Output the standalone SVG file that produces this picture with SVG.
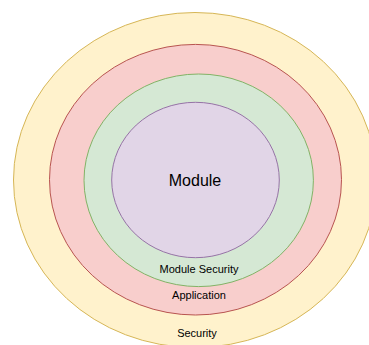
<svg xmlns="http://www.w3.org/2000/svg" width="369" height="345" viewBox="0 0 369 345">
<style>
text{font-family:"Liberation Sans",Arial,sans-serif;fill:#000;text-anchor:middle}
.s{font-size:11px}
</style>
<rect width="369" height="345" fill="#fff"/>
<g id="security"><ellipse cx="195" cy="180" rx="181.5" ry="167.5" fill="#fff2cc" stroke="#d6b656" stroke-width="1"/><text class="s" x="197" y="337">Security</text></g>
<g id="application"><ellipse cx="195.5" cy="179.7" rx="146" ry="135.3" fill="#f8cecc" stroke="#b85450" stroke-width="1"/><text class="s" x="199" y="299">Application</text></g>
<g id="module-security"><ellipse cx="198.7" cy="180.3" rx="114.7" ry="106.3" fill="#d5e8d4" stroke="#82b366" stroke-width="1"/><text class="s" x="199" y="273">Module Security</text></g>
<g id="module"><ellipse cx="195.5" cy="180" rx="83.8" ry="77.7" fill="#e1d5e7" stroke="#9673a6" stroke-width="1"/><text x="195" y="186" font-size="16">Module</text></g>
<g id="connectors"></g>
</svg>
